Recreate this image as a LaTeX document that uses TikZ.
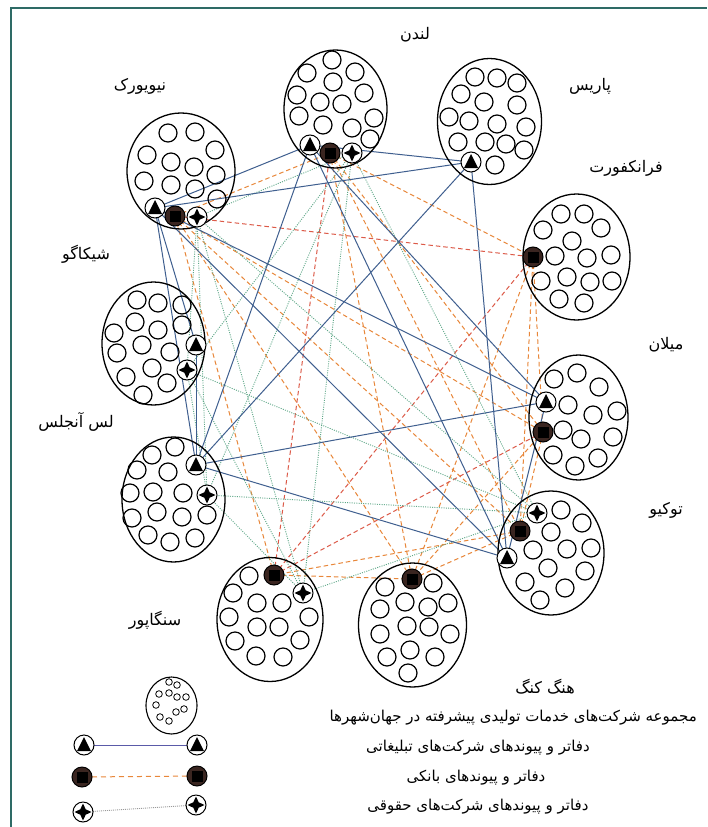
\documentclass[tikz,border=0pt]{standalone}
\usepackage{fontspec}
\newfontfamily\fafont[Script=Arabic]{DejaVu Sans}
\TeXXeTstate=1
\usetikzlibrary{shapes.geometric,backgrounds}
\definecolor{framec}{HTML}{2E6B66}
\definecolor{advc}{HTML}{3F5F8F}
\definecolor{advleg}{HTML}{5A5AA8}
\definecolor{bankc}{HTML}{E8873A}
\definecolor{bankr}{HTML}{DC5A48}
\definecolor{lawc}{HTML}{5FA888}
\definecolor{lawleg}{HTML}{9A9A9A}
\definecolor{sqfill}{HTML}{3A2520}
\newcommand{\FaTxt}[1]{{\fafont\beginR #1\endR}}
\begin{document}
\begin{tikzpicture}[x=1pt,y=-1pt,
  city/.style={ellipse, draw, line width=1.3, inner sep=0},
  smallc/.style={draw, line width=1.2},
  lab/.style={font=\fontsize{16}{18}\selectfont, inner sep=0},
  legtxt/.style={font=\fontsize{15}{18}\selectfont, inner sep=0},
  tri/.style={circle, draw, line width=1, fill=white, minimum size=20, inner sep=0,
     path picture={\fill[black] ([yshift=8pt]path picture bounding box.center) -- ++(-7pt,-14pt) -- ++(14pt,0pt) -- cycle;}},
  sqs/.style={circle, draw, line width=1, fill=sqfill, minimum size=20, inner sep=0,
     path picture={\fill[black] ([xshift=-5.5pt,yshift=-5.5pt]path picture bounding box.center) rectangle ++(11pt,11pt);}},
  pls/.style={circle, draw, line width=1, fill=white, minimum size=20, inner sep=0,
     path picture={\fill[black] ([yshift=8.5pt]path picture bounding box.center) -- ++(-2.7pt,-5.8pt) -- ++(-5.8pt,-2.7pt) -- ++(5.8pt,-2.7pt) -- ++(2.7pt,-5.8pt) -- ++(2.7pt,5.8pt) -- ++(5.8pt,2.7pt) -- ++(-5.8pt,2.7pt) -- cycle;}},
  adv/.style={draw=advc, line width=1},
  bank/.style={draw=bankc, line width=1, dash pattern=on 4.5pt off 3pt},
  bankred/.style={draw=bankr, line width=1, dash pattern=on 4.5pt off 3pt},
  law/.style={draw=lawc, line width=0.9, dash pattern=on 1pt off 1.3pt}
]
\useasboundingbox (0,0) rectangle (707,827);

% frame
\draw[framec, line width=2] (11,830) -- (11,8) -- (707,8);

% city ellipses
\node[city, minimum width=108, minimum height=116] (ny) at (181,171) {};
\node[city, minimum width=103, minimum height=118] (london) at (335.5,109) {};
\node[city, minimum width=104, minimum height=126] (paris) at (489.5,121.5) {};
\node[city, minimum width=107, minimum height=126] (frankfurt) at (576.5,257) {};
\node[city, minimum width=103, minimum height=123] (chicago) at (153.5,343.5) {};
\node[city, minimum width=99, minimum height=125] (milan) at (578.5,417.5) {};
\node[city, minimum width=103, minimum height=125] (la) at (173.5,499.5) {};
\node[city, minimum width=106, minimum height=124] (tokyo) at (551,553) {};
\node[city, minimum width=106, minimum height=124] (singapore) at (270,619.5) {};
\node[city, minimum width=108, minimum height=124] (hk) at (412.5,625) {};

% small circles (firms)
\foreach \x/\y in {168/133,195/132,147/155,171/162,194/167,215/150,216/175,144/181,171/185,195/189,217/199}
  \draw[smallc] (\x,\y) circle[radius=9pt];
\foreach \x/\y in {332/60,307/73,355/72,333/82,297/95,320/102,342/104,364/93,299/116,323/125,352/128,374/118,370/139}
  \draw[smallc] (\x,\y) circle[radius=9pt];
\foreach \x/\y in {475/77,497/78,517/83,461/94,484/102,517/105,449/117,469/121,497/124,526/127,458/142,485/142,506/144,524/150,495/165}
  \draw[smallc] (\x,\y) circle[radius=9pt];
\foreach \x/\y in {561/214,584/214,601/228,543/230,572/241,555/256,587/258,611/255,541/281,567/277,590/282,612/281,559/299,584/303}
  \draw[smallc] (\x,\y) circle[radius=9pt];
\foreach \x/\y in {137/300,158/303,182/305,135/322,158/330,182/325,114/333,142/345,170/352,117/353,152/368,126/377,167/383,143/395}
  \draw[smallc] (\x,\y) circle[radius=9pt];
\foreach \x/\y in {554/379,577/373,599/387,568/405,593/415,617/411,563/430,581/439,613/437,553/455,575/466,598/458}
  \draw[smallc] (\x,\y) circle[radius=9pt];
\foreach \x/\y in {152/455,175/447,137/470,168/472,130/493,153/492,183/493,132/518,157/512,182/517,207/515,148/535,170/542,195/538}
  \draw[smallc] (\x,\y) circle[radius=9pt];
\foreach \x/\y in {561/510,582/523,551/532,533/550,567/549,591/548,548/568,585/571,525/582,565/588,540/600}
  \draw[smallc] (\x,\y) circle[radius=9pt];
\foreach \x/\y in {249/576,233/593,257/603,282/603,229/617,309/617,257/627,279/627,235/641,300/640,256/656,283/657}
  \draw[smallc] (\x,\y) circle[radius=9pt];
\foreach \x/\y in {385/587,433/583,448/603,405/602,428/607,380/609,407/626,429/627,450/634,380/634,410/650,387/657,435/657,408/673}
  \draw[smallc] (\x,\y) circle[radius=9pt];

% office symbols
\node[tri] (nyT) at (155,208) {};
\node[sqs] (nyS) at (175,216) {};
\node[pls] (nyP) at (197,217) {};
\node[tri] (lnT) at (310,145) {};
\node[sqs] (lnS) at (330,153) {};
\node[pls] (lnP) at (352,153) {};
\node[tri] (paT) at (471,162) {};
\node[sqs] (frS) at (533,257) {};
\node[tri] (chT) at (196,345) {};
\node[pls] (chP) at (187,370) {};
\node[tri] (miT) at (546,402) {};
\node[sqs] (miS) at (543,432) {};
\node[tri] (laT) at (196,465) {};
\node[pls] (laP) at (207,495) {};
\node[pls] (tkP) at (537,513) {};
\node[sqs] (tkS) at (520,531) {};
\node[tri] (tkT) at (507,558) {};
\node[sqs] (sgS) at (274,575) {};
\node[pls] (sgP) at (303,593) {};
\node[sqs] (hkS) at (412,579) {};

% city labels
\node[lab] (lLondon) at (415,35) {\FaTxt{لندن}};
\node[lab] (lNY) at (140,86) {\FaTxt{نیویورک}};
\node[lab] (lParis) at (590,86) {\FaTxt{پاریس}};
\node[lab] (lFrank) at (626,168) {\FaTxt{فرانکفورت}};
\node[lab] (lChicago) at (86,254) {\FaTxt{شیکاگو}};
\node[lab] (lMilan) at (666,345) {\FaTxt{میلان}};
\node[lab] (lLA) at (76,422) {\FaTxt{لس آنجلس}};
\node[lab] (lTokyo) at (666,510) {\FaTxt{توکیو}};
\node[lab] (lSing) at (155,620) {\FaTxt{سنگاپور}};
\node[lab] (lHK) at (545,687) {\FaTxt{هنگ کنگ}};

% legend
\node[city, line width=1.1, minimum width=51, minimum height=57] (legE) at (171.5,705.5) {};
\foreach \x/\y in {169/682,177/685,159/694,169/693,177/697,186/697,156/705,176/712,184/709,160/717,169/721}
  \draw[line width=0.8] (\x,\y) circle[radius=3.3pt];
\node[tri] (lg1a) at (84,745) {};
\node[tri] (lg1b) at (197,745) {};
\node[sqs] (lg2a) at (82,777) {};
\node[sqs] (lg2b) at (197,776) {};
\node[pls] (lg3a) at (83,812) {};
\node[pls] (lg3b) at (196,805) {};

\node[legtxt, anchor=east] (t0) at (697,718) {\FaTxt{مجموعه شرکت‌های خدمات تولیدی پیشرفته در جهان‌شهرها}};
\node[legtxt] (t1) at (478,748) {\FaTxt{دفاتر و پیوندهای شرکت‌های تبلیغاتی}};
\node[legtxt] (t2) at (476,778) {\FaTxt{دفاتر و پیوندهای بانکی}};
\node[legtxt] (t3) at (478,807) {\FaTxt{دفاتر و پیوندهای شرکت‌های حقوقی}};

% connectors (behind symbols)
\begin{pgfonlayer}{background}
\fill[white] (0,0) rectangle (707,827);
\foreach \a/\b in {nyS/lnS,nyS/miS,nyS/tkS,nyS/sgS,nyS/hkS,lnS/frS,lnS/miS,lnS/tkS,lnS/hkS,frS/miS,frS/tkS,frS/hkS,miS/tkS,miS/hkS,tkS/sgS,tkS/hkS,sgS/hkS}
  \draw[bank] (\a.center) -- (\b.center);
\foreach \a/\b in {nyS/frS,lnS/sgS,frS/sgS,miS/sgS}
  \draw[bankred] (\a.center) -- (\b.center);
\foreach \a/\b in {nyP/lnP,nyP/chP,nyP/laP,nyP/tkP,nyP/sgP,lnP/chP,lnP/laP,lnP/tkP,lnP/sgP,chP/laP,chP/tkP,chP/sgP,laP/tkP,laP/sgP,tkP/sgP}
  \draw[law] (\a.center) -- (\b.center);
\foreach \a/\b in {nyT/lnT,nyT/paT,nyT/chT,nyT/laT,nyT/miT,nyT/tkT,lnT/paT,lnT/laT,lnT/miT,lnT/tkT,paT/laT,paT/tkT,chT/laT,laT/miT,laT/tkT,miT/tkT}
  \draw[adv] (\a.center) -- (\b.center);
\draw[draw=advleg, line width=1] (lg1a.center) -- (lg1b.center);
\draw[draw=bankc, line width=1, dash pattern=on 5pt off 4pt, shorten <=10pt, shorten >=8pt] (lg2a.center) -- (lg2b.center);
\draw[draw=lawleg, line width=0.9, dash pattern=on 1pt off 1pt, shorten <=10pt, shorten >=10pt] (lg3a.center) -- (lg3b.center);
\end{pgfonlayer}
\end{tikzpicture}
\end{document}
